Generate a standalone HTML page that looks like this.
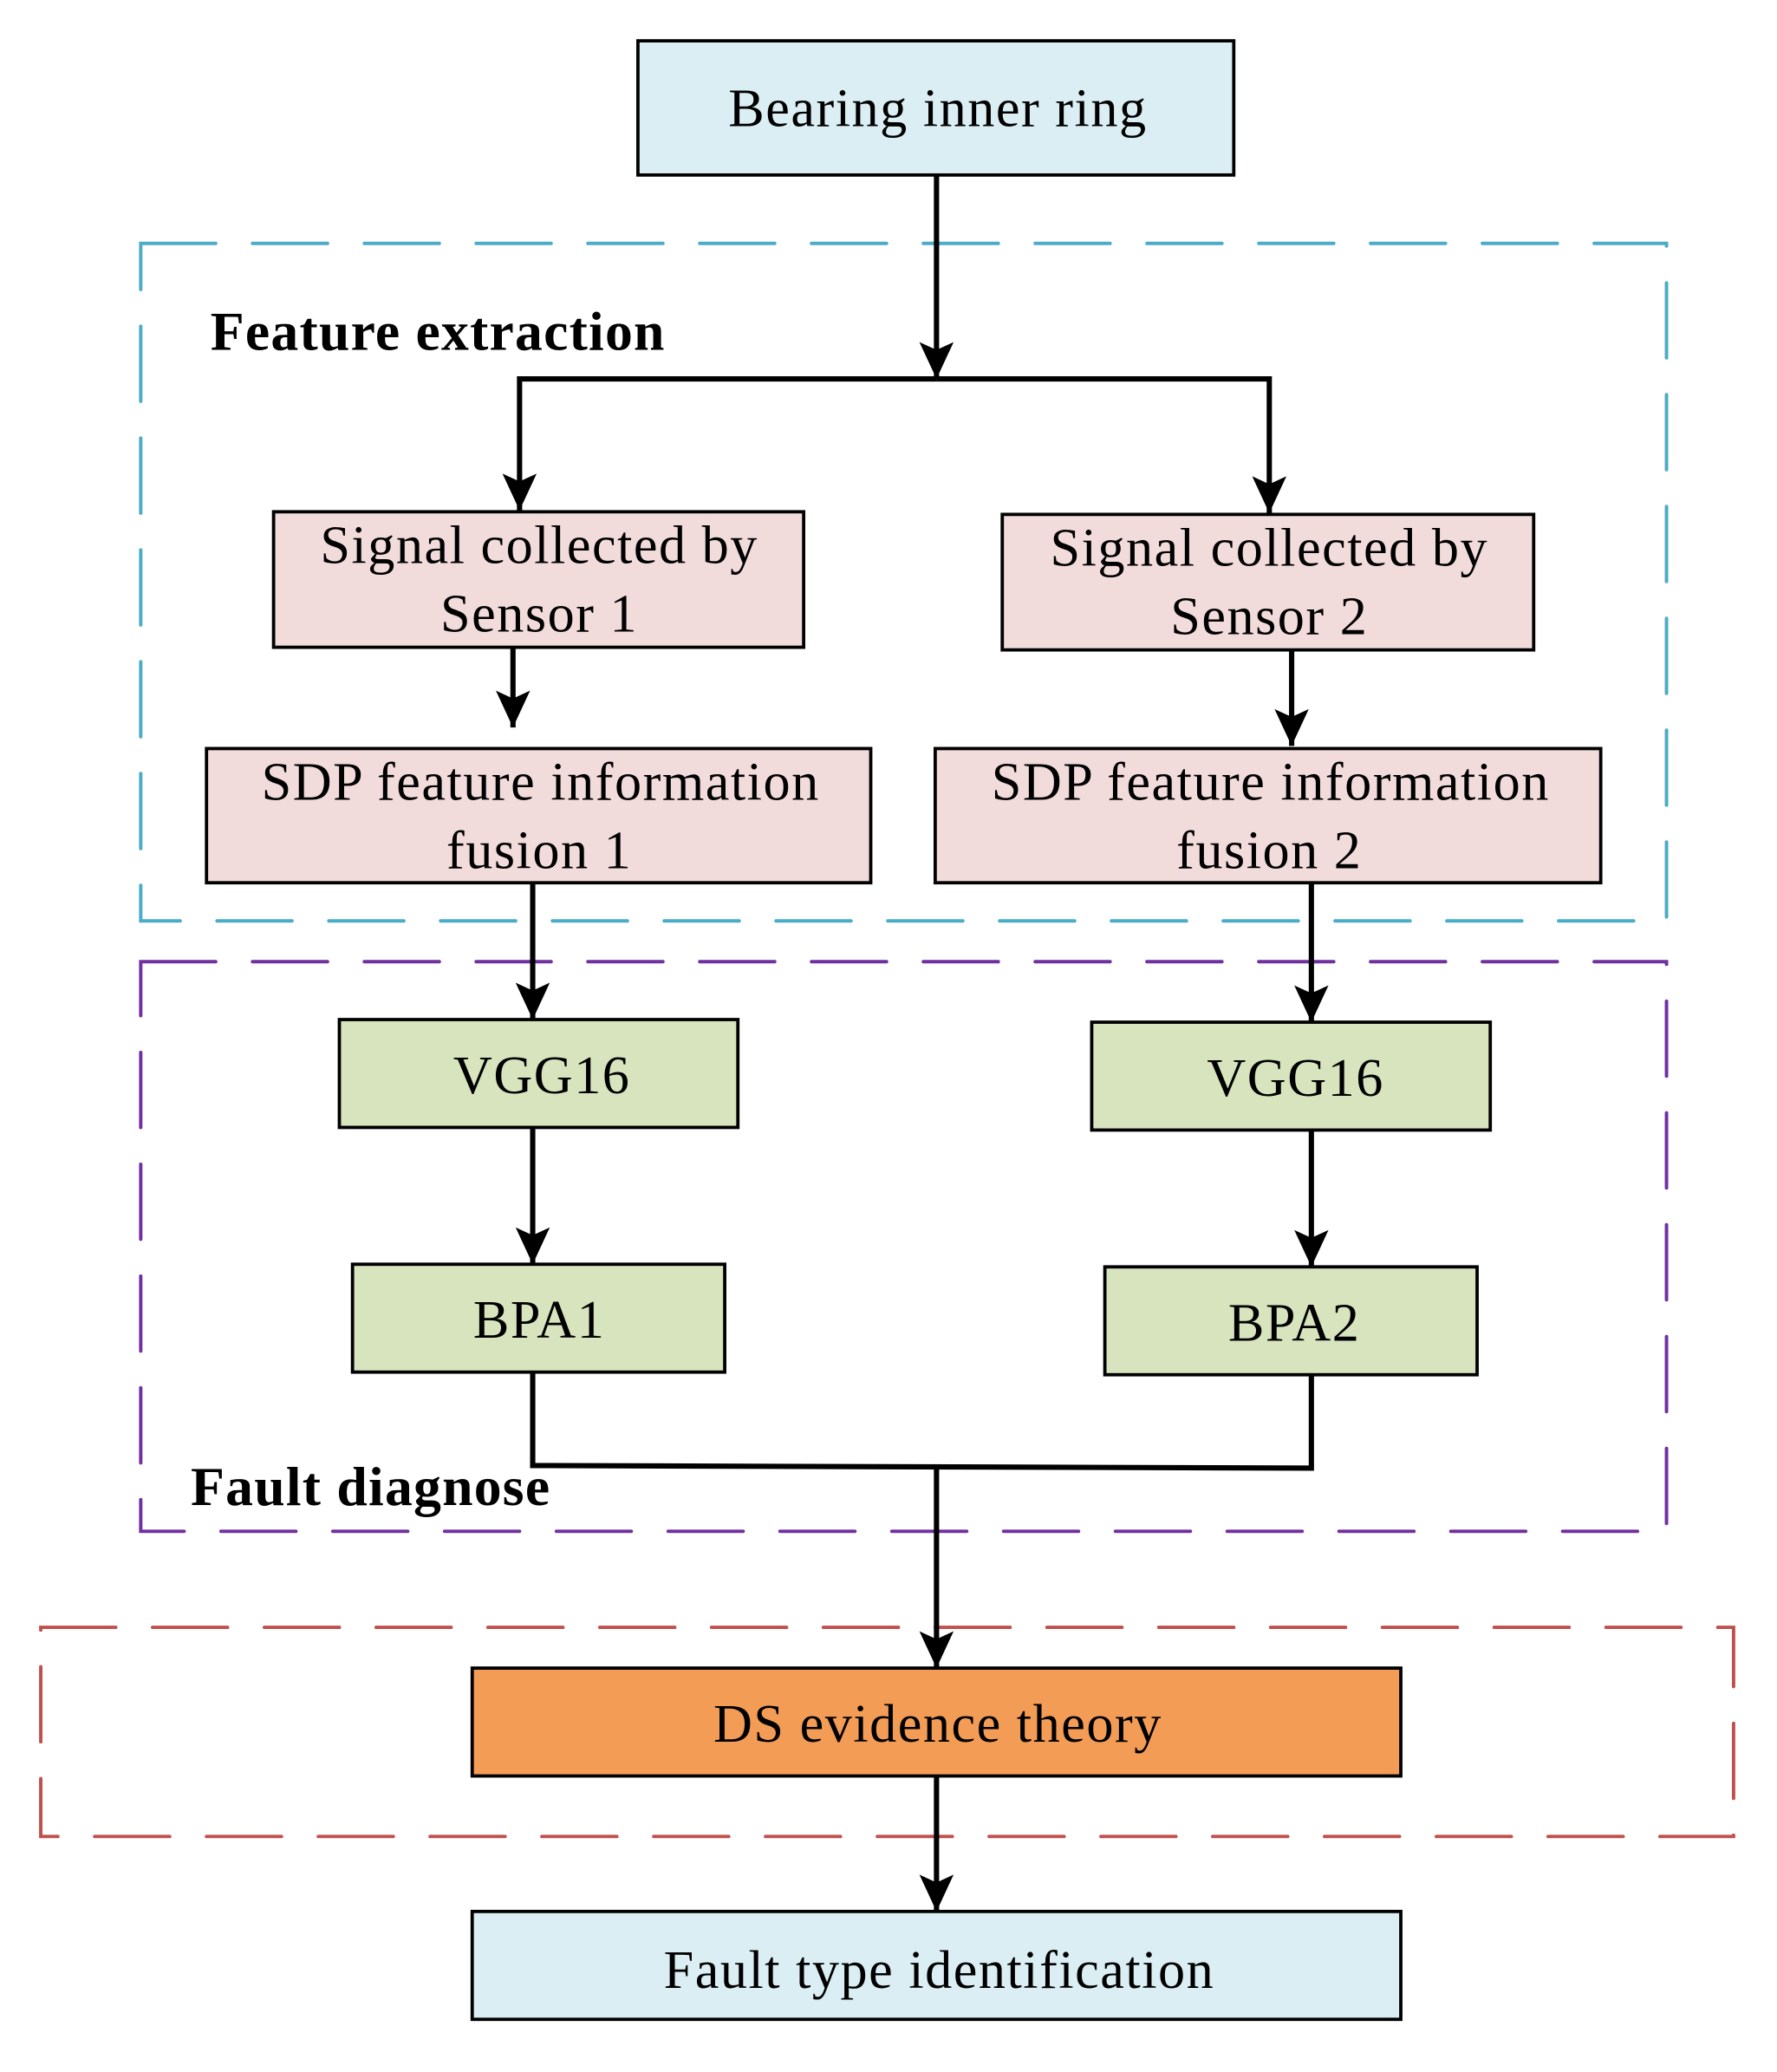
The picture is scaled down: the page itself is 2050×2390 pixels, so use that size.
<!DOCTYPE html>
<html><head><meta charset="utf-8"><style>html,body{margin:0;padding:0;background:#fff}svg{display:block}</style></head>
<body>
<svg width="2050" height="2390" viewBox="0 0 1351 1575" xmlns="http://www.w3.org/2000/svg" font-family="Liberation Serif, serif">
<defs>
<marker id="b" markerWidth="30" markerHeight="30" refX="28" refY="15" orient="auto" markerUnits="userSpaceOnUse"><path d="M0,2 L28,15 L0,28 L6,15 z" fill="#000"/></marker></defs>
<g fill="none" stroke-width="2.6" stroke-dasharray="57 28" stroke-linecap="round">
<rect x="107" y="185" width="1160" height="515" stroke="#4bacc6"/>
<rect x="107" y="731" width="1160" height="433" stroke="#7030a0"/>
<rect x="31" y="1237" width="1287" height="159" stroke="#c0504d"/>
</g>
<g stroke="#000" stroke-width="2.5">
<rect x="485" y="31" width="453" height="102" fill="#dbeef3"/>
<rect x="208" y="389" width="403" height="103" fill="#f2dcdb"/>
<rect x="762" y="391" width="404" height="103" fill="#f2dcdb"/>
<rect x="157" y="569" width="505" height="102" fill="#f2dcdb"/>
<rect x="711" y="569" width="506" height="102" fill="#f2dcdb"/>
<rect x="258" y="775" width="303" height="82" fill="#d7e4bd"/>
<rect x="830" y="777" width="303" height="82" fill="#d7e4bd"/>
<rect x="268" y="961" width="283" height="82" fill="#d7e4bd"/>
<rect x="840" y="963" width="283" height="82" fill="#d7e4bd"/>
<rect x="359" y="1268" width="706" height="82" fill="#f39c56"/>
<rect x="359" y="1453" width="706" height="82" fill="#dbeef3"/>
</g>
<g stroke="#000" stroke-width="4" fill="none" marker-end="url(#b)">
<line x1="712" y1="133" x2="712" y2="288"/>
<polyline points="712,288 395,288 395,388"/>
<polyline points="712,288 965,288 965,390"/>
<line x1="390" y1="492" x2="390" y2="553"/>
<line x1="982" y1="494" x2="982" y2="567"/>
<line x1="405" y1="671" x2="405" y2="775"/>
<line x1="997" y1="671" x2="997" y2="777"/>
<line x1="405" y1="857" x2="405" y2="961"/>
<line x1="997" y1="859" x2="997" y2="963"/>
<line x1="712" y1="1114" x2="712" y2="1268"/>
<line x1="712" y1="1350" x2="712" y2="1453"/>
</g>
<polyline points="405,1043 405,1114 997,1116 997,1045" stroke="#000" stroke-width="4" fill="none"/>
<g font-size="41" letter-spacing="1" text-anchor="middle" fill="#000">
<text x="713" y="96">Bearing inner ring</text>
<text x="410" y="428">Signal collected by</text>
<text x="410" y="480">Sensor 1</text>
<text x="965" y="430">Signal collected by</text>
<text x="965" y="482">Sensor 2</text>
<text x="411" y="608">SDP feature information</text>
<text x="410" y="660">fusion 1</text>
<text x="966" y="608">SDP feature information</text>
<text x="965" y="660">fusion 2</text>
<text x="412" y="831">VGG16</text>
<text x="985" y="833">VGG16</text>
<text x="410" y="1017">BPA1</text>
<text x="984" y="1019">BPA2</text>
<text x="713" y="1324">DS evidence theory</text>
<text x="714" y="1511">Fault type identification</text>
</g>
<g font-size="42" font-weight="bold" fill="#000" letter-spacing="0.8">
<text x="160" y="266">Feature extraction</text>
<text x="145" y="1144">Fault diagnose</text>
</g>
</svg>
</body></html>
